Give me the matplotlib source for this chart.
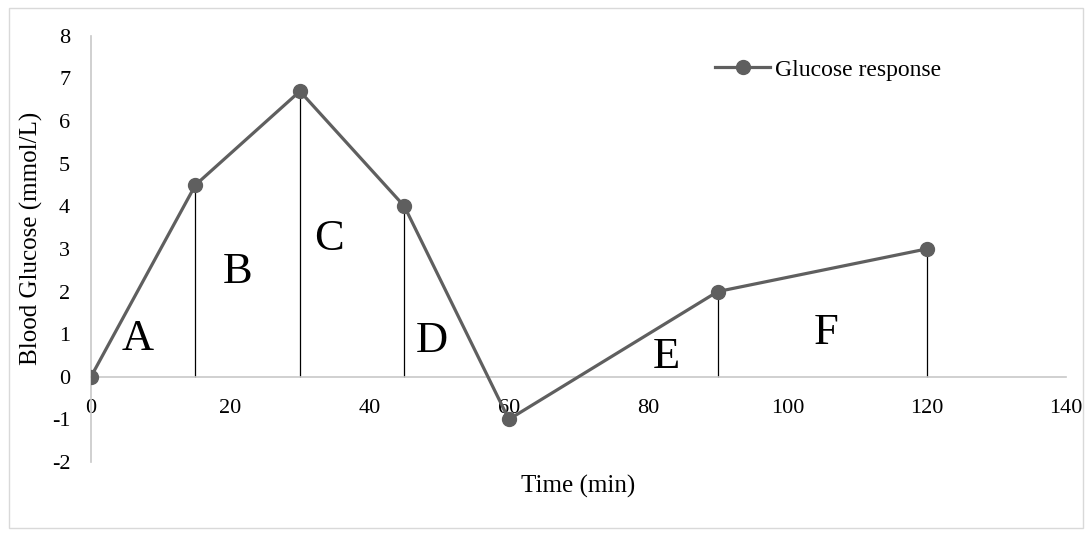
import matplotlib.pyplot as plt
from matplotlib.patches import Rectangle

# data
time_min = [0, 15, 30, 45, 60, 90, 120]
glucose = [0, 4.5, 6.7, 4, -1, 2, 3]

# drop lines at these times
drop_times = [15, 30, 45, 90, 120]
drop_vals = [4.5, 6.7, 4, 2, 3]

# area letters (baseline positions)
area_labels = ["A", "B", "C", "D", "E", "F"]
area_x = [6.7, 21.0, 34.2, 49.0, 82.6, 105.5]
area_y = [0.63, 2.21, 2.98, 0.59, 0.20, 0.76]

x_ticks = [0, 20, 40, 60, 80, 100, 120, 140]
y_ticks = [-2, -1, 0, 1, 2, 3, 4, 5, 6, 7, 8]

plt.rcParams['font.family'] = ['Liberation Serif', 'DejaVu Serif']
plt.rcParams['axes.unicode_minus'] = False

fig = plt.figure(figsize=(10.92, 5.36), dpi=100)
ax = fig.add_axes([0.0833, 0.138, 0.8929, 0.7952])

fig.patches.append(Rectangle((0.008, 0.014), 0.984, 0.972, transform=fig.transFigure,
                             fill=False, edgecolor='#d9d9d9', linewidth=1.0))

line_col = '#5f5f5f'
ax.plot(time_min, glucose, color=line_col, linewidth=2.3, marker='o',
        markersize=10, label='Glucose response', zorder=3)
ax.vlines(drop_times, 0, drop_vals, color='black', linewidth=0.9, zorder=2)

for lab, xx, yy in zip(area_labels, area_x, area_y):
    ax.text(xx, yy, lab, fontsize=32, ha='center', va='baseline', color='black')

ax.set_xlim(0, 140)
ax.set_ylim(-2, 8)
ax.set_xticks(x_ticks)
ax.set_yticks(y_ticks)

for s in ['top', 'right']:
    ax.spines[s].set_visible(False)
ax.spines['bottom'].set_position(('data', 0))
ax.spines['bottom'].set_color('#c8c8c8')
ax.spines['left'].set_color('#c8c8c8')
ax.spines['bottom'].set_linewidth(1.2)
ax.spines['left'].set_linewidth(1.2)
ax.tick_params(length=0, labelsize=16)
ax.tick_params(axis='x', pad=16)
ax.tick_params(axis='y', pad=15)

fig.text(0.0284, 0.555, 'Blood Glucose (mmol/L)', fontsize=18, rotation=90,
         ha='center', va='center')
fig.text(0.529, 0.093, 'Time (min)', fontsize=18, ha='center', va='center')

ax.legend(loc='center left', bbox_to_anchor=(0.64, 0.92), frameon=False,
          fontsize=17, handlelength=2.33, handletextpad=0.2, borderpad=0,
          borderaxespad=0)

fig.savefig('out.png', dpi=100)
